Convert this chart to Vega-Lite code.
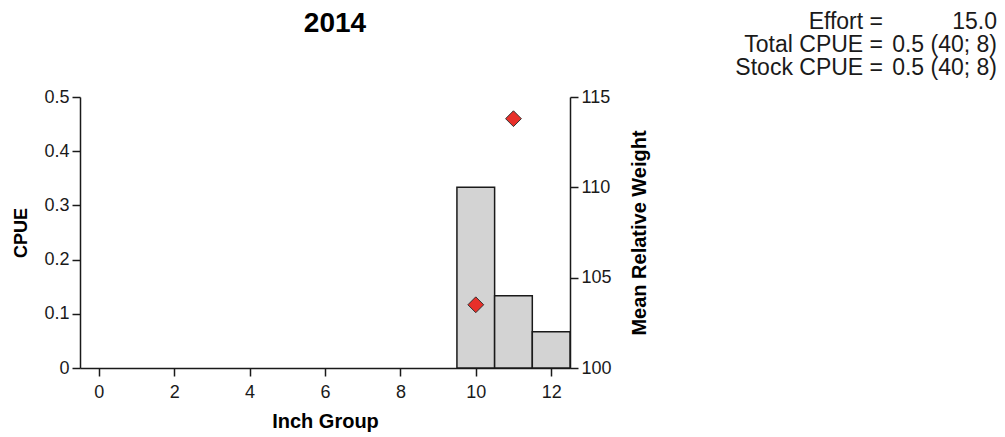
{
  "$schema": "https://vega.github.io/schema/vega-lite/v6.json",
  "padding": {"left": 12, "top": 10, "right": 2, "bottom": 2},
  "background": "white",
  "config": {
    "font": "Liberation Sans",
    "view": {"stroke": null},
    "axis": {
      "grid": false,
      "labelFont": "Liberation Sans",
      "labelFontSize": 18,
      "labelColor": "#1a1a1a",
      "domainColor": "#1a1a1a",
      "domainWidth": 1.5,
      "tickColor": "#1a1a1a",
      "tickWidth": 1.5,
      "tickSize": 8,
      "labelPadding": 3,
      "titleFont": "Liberation Sans",
      "titleFontWeight": "bold",
      "titleColor": "#000000"
    }
  },
  "datasets": {
    "catch": [
      {"inch": 10, "cpue": 0.3333, "rw": 103.5},
      {"inch": 11, "cpue": 0.1333, "rw": 113.8},
      {"inch": 12, "cpue": 0.0667, "rw": null}
    ],
    "stats": [
      {"line": 1, "part": "label", "text": "Effort ="},
      {"line": 1, "part": "value", "text": "15.0"},
      {"line": 2, "part": "label", "text": "Total CPUE ="},
      {"line": 2, "part": "value", "text": "0.5 (40; 8)"},
      {"line": 3, "part": "label", "text": "Stock CPUE ="},
      {"line": 3, "part": "value", "text": "0.5 (40; 8)"}
    ]
  },
  "spacing": 85,
  "hconcat": [
    {
      "width": 490,
      "height": 271,
      "title": {"text": "2014", "fontSize": 28, "fontWeight": "bold", "font": "Liberation Sans", "color": "#000000", "offset": 50, "dx": 10},
      "data": {"name": "catch"},
      "layer": [
        {
          "transform": [
            {"calculate": "datum.inch - 0.5", "as": "lo"},
            {"calculate": "datum.inch + 0.5", "as": "hi"}
          ],
          "mark": {"type": "bar", "fill": "#d3d3d3", "stroke": "#1a1a1a", "strokeWidth": 1.5},
          "encoding": {
            "x": {
              "field": "lo", "type": "quantitative",
              "scale": {"domain": [-0.5, 12.5], "nice": false, "zero": false},
              "axis": {"values": [0, 2, 4, 6, 8, 10, 12], "title": "Inch Group", "titleFontSize": 20, "labelPadding": 7, "titlePadding": 10}
            },
            "x2": {"field": "hi"},
            "y": {
              "field": "cpue", "type": "quantitative",
              "scale": {"domain": [0, 0.5], "nice": false},
              "axis": {"values": [0, 0.1, 0.2, 0.3, 0.4, 0.5], "format": "~g", "title": "CPUE", "titleFontSize": 18, "titlePadding": 13}
            },
            "y2": {"datum": 0}
          }
        },
        {
          "transform": [{"filter": "datum.rw != null"}],
          "mark": {"type": "point", "shape": "diamond", "filled": true, "fill": "#e8302a", "stroke": "#333333", "strokeWidth": 1, "size": 250, "opacity": 1},
          "encoding": {
            "x": {"field": "inch", "type": "quantitative", "axis": {"title": "Inch Group"}},
            "y": {
              "field": "rw", "type": "quantitative",
              "scale": {"domain": [100, 115], "nice": false, "zero": false},
              "axis": {"orient": "right", "values": [100, 105, 110, 115], "title": "Mean Relative Weight", "titleFontSize": 20, "titleAngle": 270, "titleBaseline": "top", "titlePadding": 18}
            }
          }
        }
      ],
      "resolve": {"scale": {"y": "independent"}}
    },
    {
      "width": 114,
      "height": 271,
      "data": {"name": "stats"},
      "mark": {"type": "text", "align": "right", "baseline": "middle", "fontSize": 23, "font": "Liberation Sans", "color": "#1a1a1a"},
      "encoding": {
        "x": {"field": "part", "type": "nominal", "scale": {"type": "point", "padding": 0, "domain": ["label", "value"]}, "axis": null},
        "y": {"field": "line", "type": "ordinal", "scale": {"type": "point", "padding": 0, "range": [-75, -29]}, "axis": null},
        "text": {"field": "text"}
      }
    }
  ]
}
